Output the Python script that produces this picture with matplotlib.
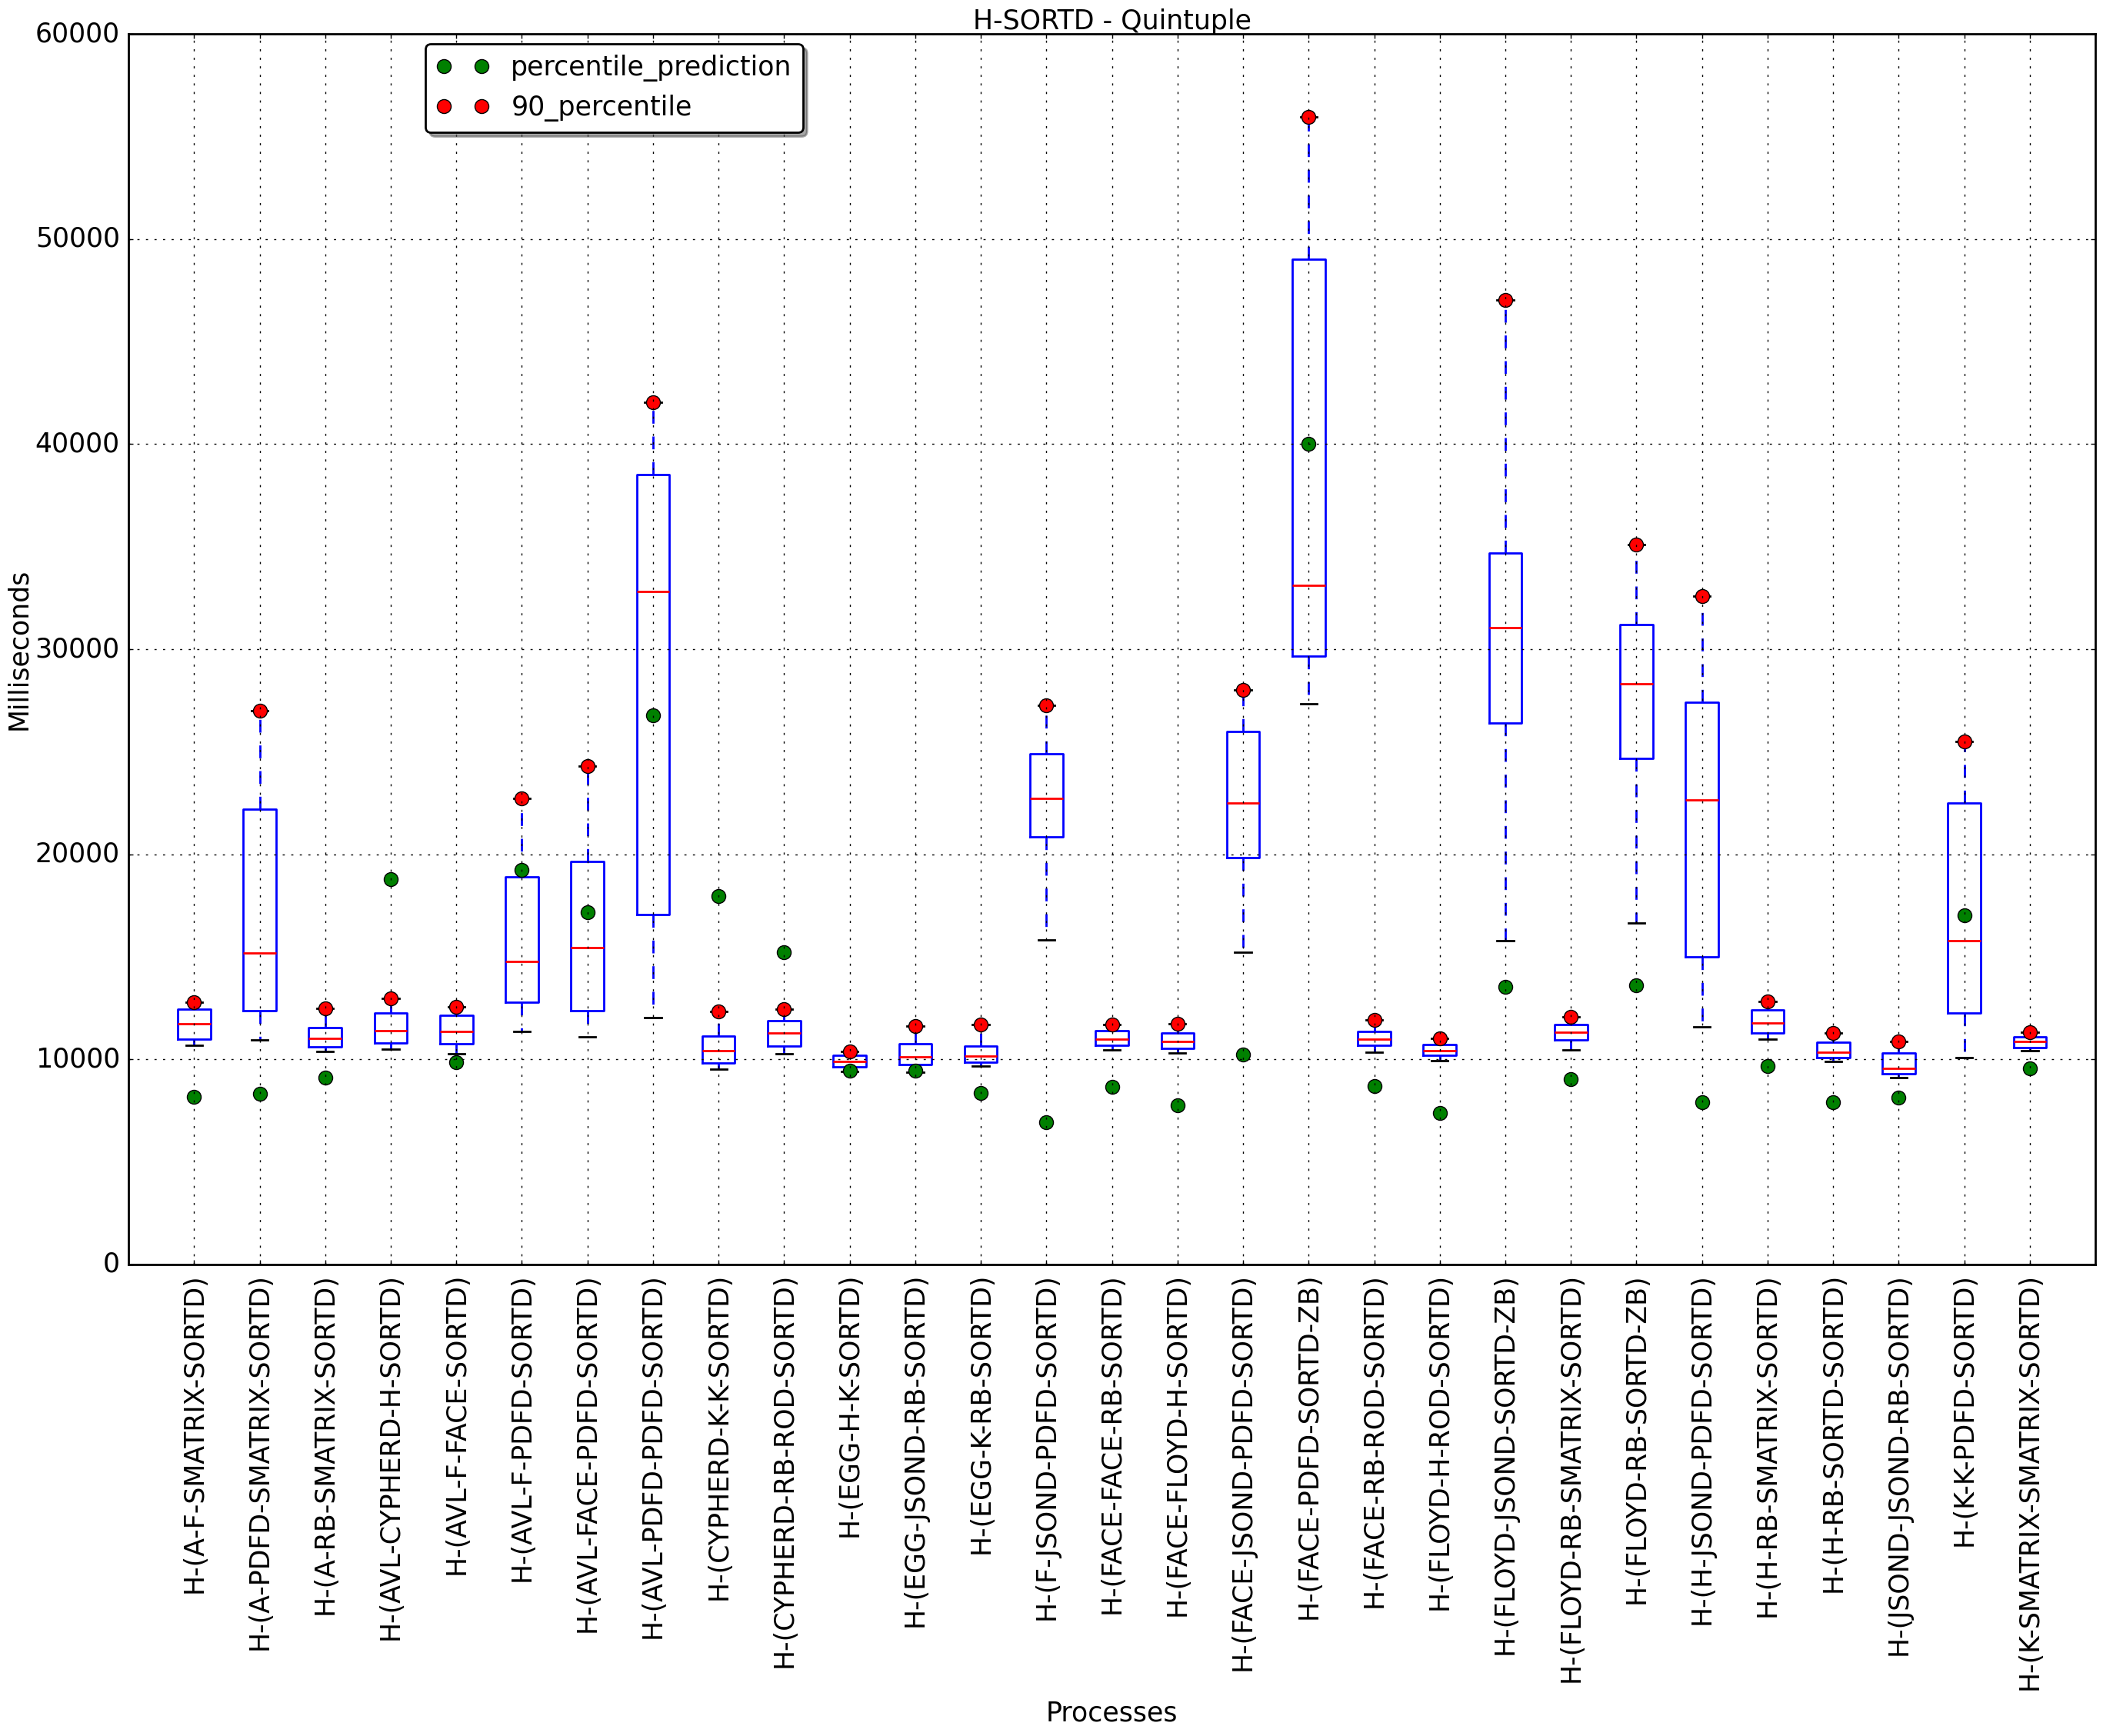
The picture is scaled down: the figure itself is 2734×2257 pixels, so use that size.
import matplotlib
matplotlib.use("Agg")
import matplotlib.pyplot as plt

plt.style.use("classic")

processes = [
    "H-(A-F-SMATRIX-SORTD)", "H-(A-PDFD-SMATRIX-SORTD)", "H-(A-RB-SMATRIX-SORTD)",
    "H-(AVL-CYPHERD-H-SORTD)", "H-(AVL-F-FACE-SORTD)", "H-(AVL-F-PDFD-SORTD)",
    "H-(AVL-FACE-PDFD-SORTD)", "H-(AVL-PDFD-PDFD-SORTD)", "H-(CYPHERD-K-K-SORTD)",
    "H-(CYPHERD-RB-ROD-SORTD)", "H-(EGG-H-K-SORTD)", "H-(EGG-JSOND-RB-SORTD)",
    "H-(EGG-K-RB-SORTD)", "H-(F-JSOND-PDFD-SORTD)", "H-(FACE-FACE-RB-SORTD)",
    "H-(FACE-FLOYD-H-SORTD)", "H-(FACE-JSOND-PDFD-SORTD)", "H-(FACE-PDFD-SORTD-ZB)",
    "H-(FACE-RB-ROD-SORTD)", "H-(FLOYD-H-ROD-SORTD)", "H-(FLOYD-JSOND-SORTD-ZB)",
    "H-(FLOYD-RB-SMATRIX-SORTD)", "H-(FLOYD-RB-SORTD-ZB)", "H-(H-JSOND-PDFD-SORTD)",
    "H-(H-RB-SMATRIX-SORTD)", "H-(H-RB-SORTD-SORTD)", "H-(JSOND-JSOND-RB-SORTD)",
    "H-(K-K-PDFD-SORTD)", "H-(K-SMATRIX-SMATRIX-SORTD)",
]

whisker_low = [10688, 10946, 10387, 10501, 10272, 11361, 11103, 12034, 9527, 10266,
               9408, 9379, 9675, 15814, 10444, 10311, 15226, 27353, 10335, 9933,
               15796, 10469, 16633, 11575, 10974, 9895, 9105, 10105, 10421]
q1 = [10974, 12393, 10602, 10788, 10745, 12779, 12364, 17049, 9808, 10636,
      9630, 9749, 9852, 20858, 10680, 10533, 19849, 29665, 10670, 10201,
      26415, 10938, 24673, 14992, 11289, 10105, 9316, 12263, 10579]
median = [11719, 15201, 11032, 11390, 11347, 14757, 15444, 32816, 10414, 11287,
          9882, 10118, 10148, 22722, 10976, 10873, 22496, 33116, 10972, 10436,
          31039, 11340, 28325, 22663, 11789, 10368, 9579, 15789, 10868]
q3 = [12436, 22207, 11533, 12249, 12135, 18883, 19656, 38520, 11154, 11879,
      10192, 10754, 10636, 24897, 11391, 11287, 25980, 48995, 11374, 10737,
      34690, 11709, 31206, 27420, 12421, 10842, 10316, 22500, 11105]
percentile_90 = [12779, 27006, 12479, 12966, 12565, 22708, 24284, 42050, 12323, 12441,
                 10385, 11627, 11701, 27264, 11716, 11746, 28023, 55963, 11910, 11039,
                 47019, 12077, 35092, 32580, 12816, 11289, 10868, 25500, 11316]
percentile_prediction = [8166, 8324, 9112, 18797, 9857, 19241, 17164, 26791, 17944, 15207,
                         9438, 9438, 8373, 6938, 8654, 7766, 10234, 40017, 8693, 7387,
                         13551, 9028, 13618, 7923, 9658, 7895, 8132, 17026, 9553]

FS = 12.5

fig = plt.figure(figsize=(13.67, 11.285), dpi=200)
ax = fig.add_axes([0.0611, 0.2716, 0.9353, 0.7089])

positions = list(range(1, len(processes) + 1))
stats = []
for i in range(len(processes)):
    stats.append(dict(whislo=whisker_low[i], q1=q1[i], med=median[i], q3=q3[i],
                      whishi=percentile_90[i], fliers=[], label=processes[i]))

ax.bxp(stats, positions=positions, widths=0.5, showfliers=False,
       boxprops=dict(color="b", linewidth=1.0),
       whiskerprops=dict(color="b", linestyle="--", linewidth=1.0),
       capprops=dict(color="k", linewidth=1.0),
       medianprops=dict(color="r", linewidth=1.0))

ax.plot(positions, percentile_prediction, "o", color="g", markeredgecolor="k",
        markersize=6.5, markeredgewidth=0.5, label="percentile_prediction")
ax.plot(positions, percentile_90, "o", color="r", markeredgecolor="k",
        markersize=6.5, markeredgewidth=0.5, label="90_percentile")

ax.set_xlim(0, 30)
ax.set_ylim(0, 60000)
ax.set_xticks(positions)
ax.set_xticklabels(processes, rotation=90, fontsize=FS)
ax.set_yticks(range(0, 60001, 10000))
ax.tick_params(axis="y", labelsize=FS)
ax.tick_params(which="major", length=2.2, direction="in", top=True, right=True)
ax.grid(True, linestyle=":", color="k", linewidth=0.5)

ax.set_title("H-SORTD - Quintuple", fontsize=FS, pad=2)
ax.set_xlabel("Processes", fontsize=FS)
ax.set_ylabel("Milliseconds", fontsize=FS, labelpad=1.5)

ax.legend(loc="upper left", bbox_to_anchor=(0.151, 0.992), borderaxespad=0,
          numpoints=2, fancybox=True, shadow=True, fontsize=FS)

fig.savefig("out.png", dpi=200, facecolor="white")
